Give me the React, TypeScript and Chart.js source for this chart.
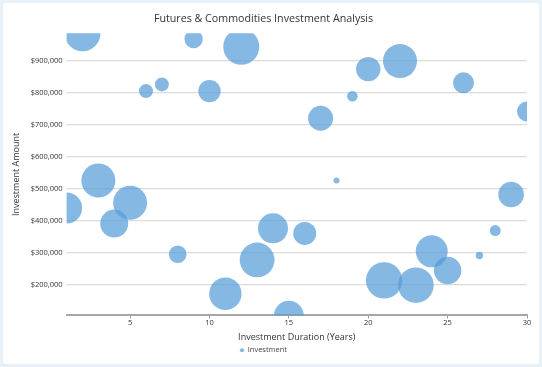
import React, { useEffect, useRef } from "react";
import { Chart, registerables } from "chart.js";

Chart.register(...registerables);

const CHART_TITLE = "Futures & Commodities Investment Analysis";
const X_TITLE = "Investment Duration (Years)";
const Y_TITLE = "Investment Amount";
const SERIES_NAME = "Investment";

const durations = [1, 2, 3, 4, 5, 6, 7, 8, 9, 10, 11, 12, 13, 14, 15, 16, 17, 18, 19, 20, 21, 22, 23, 24, 25, 26, 27, 28, 29, 30];
const amounts = [
  440000, 987000, 526000, 391000, 456000, 806000, 827000, 295000, 969000, 806000,
  171000, 945000, 277000, 376000, 103000, 360000, 721000, 526000, 790000, 875000,
  213000, 900000, 198000, 304000, 244000, 832000, 291000, 369000, 482000, 742000,
];
const bubbleSizes = [
  15.5, 18, 17, 14, 17, 7, 7, 8.8, 9.2, 11.2,
  16.2, 18, 17.4, 15, 14.8, 11.5, 12.5, 3, 5.3, 12.2,
  18.2, 17, 17.8, 16, 13.7, 10.5, 3.7, 5.5, 12.8, 10,
];
const xTickValues = [5, 10, 15, 20, 25, 30];
const yTickValues = [200000, 300000, 400000, 500000, 600000, 700000, 800000, 900000];

const FONT = "'Open Sans', 'Noto Sans', sans-serif";

export default function App() {
  const canvasRef = useRef<HTMLCanvasElement | null>(null);

  useEffect(() => {
    const canvas = canvasRef.current;
    if (!canvas) return;
    const points = durations.map((d, i) => ({ x: d, y: amounts[i], r: bubbleSizes[i] }));
    const chart = new Chart(canvas, {
      type: "bubble",
      data: {
        datasets: [
          {
            label: SERIES_NAME,
            data: points,
            backgroundColor: "rgba(88, 157, 218, 0.72)",
            borderColor: "rgba(88, 157, 218, 0)",
            borderWidth: 0,
            hoverBorderWidth: 0,
          },
        ],
      },
      options: {
        responsive: false,
        animation: false,
        devicePixelRatio: 1,
        layout: { autoPadding: false, padding: { left: 0, right: 15, top: 0, bottom: 3 } },
        plugins: {
          title: {
            display: true,
            text: CHART_TITLE,
            color: "#333333",
            font: { family: FONT, size: 10.7, weight: "normal" },
            padding: { top: 12.8, bottom: 7.7 },
          },
          legend: {
            display: true,
            position: "bottom",
            labels: {
              usePointStyle: true,
              pointStyle: "circle",
              boxWidth: 4,
              boxHeight: 3,
              padding: 3,
              color: "#444444",
              font: { family: FONT, size: 7.5 },
            },
          },
          tooltip: { enabled: false },
        },
        scales: {
          x: {
            type: "linear",
            min: Math.min(...durations),
            max: Math.max(...durations),
            afterBuildTicks: (scale: any) => {
              scale.ticks = xTickValues.map((value) => ({ value }));
            },
            afterFit: (scale: any) => {
              scale.height = 28;
            },
            grid: { display: true, drawOnChartArea: false, drawTicks: true, tickLength: 3, color: "#999999", lineWidth: 1 },
            border: { display: true, color: "#a6a6a6", width: 2 },
            ticks: { color: "#333333", padding: 0, maxRotation: 0, font: { family: FONT, size: 7.5 } },
            title: {
              display: true,
              text: X_TITLE,
              color: "#333333",
              font: { family: FONT, size: 9 },
              padding: { top: 0, bottom: 1 },
            },
          },
          y: {
            type: "linear",
            min: Math.min(...amounts),
            max: Math.max(...amounts),
            afterBuildTicks: (scale: any) => {
              scale.ticks = yTickValues.map((value) => ({ value }));
            },
            afterFit: (scale: any) => {
              scale.width = 66.6;
            },
            grid: { display: true, drawTicks: false, color: "#dcdcdc", lineWidth: 1.3 },
            border: { display: false },
            ticks: {
              color: "#333333",
              padding: 4,
              font: { family: FONT, size: 7.5 },
              callback: (v: any) => "$" + Number(v).toLocaleString("en-US"),
            },
            title: {
              display: true,
              text: Y_TITLE,
              color: "#333333",
              font: { family: FONT, size: 9 },
              padding: { top: 11, bottom: 0 },
            },
          },
        },
      },
    });
    return () => chart.destroy();
  }, []);

  return (
    <div style={{ position: "fixed", left: 0, top: 0, width: 542, height: 367, background: "#e9f1f6", overflow: "hidden" }}>
      <div style={{ position: "absolute", left: 3, top: 3, width: 536, height: 361, background: "#ffffff", borderRadius: 3 }} />
      <canvas ref={canvasRef} width={542} height={367} style={{ position: "absolute", left: 0, top: 0, width: 542, height: 367 }} />
    </div>
  );
}
